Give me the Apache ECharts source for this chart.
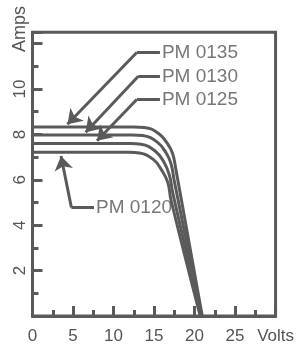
<!DOCTYPE html>
<html>
<head>
<meta charset="utf-8">
<script src="https://cdn.jsdelivr.net/npm/echarts@6/dist/echarts.min.js"></script>
<style>
html,body{margin:0;padding:0;background:#fff;}
#c{width:297px;height:345px;}
</style>
</head>
<body>
<div id="c"></div>
<script>
// ---- data (Volts, Amps) ----
const seriesNames = ['PM 0135', 'PM 0130', 'PM 0125', 'PM 0120'];
const pm0135 = [[0, 8.33], [7, 8.33], [12.5, 8.33], [13.8, 8.31], [15.6, 8.03], [16.7, 7.57], [17.3, 7.15], [17.7, 6.45], [20.95, 0]];
const pm0130 = [[0, 7.98], [7, 7.98], [12.3, 7.98], [13.6, 7.95], [15.4, 7.66], [16.5, 7.18], [17.1, 6.7], [17.5, 5.95], [20.85, 0]];
const pm0125 = [[0, 7.60], [7, 7.60], [12.1, 7.60], [13.4, 7.57], [15.1, 7.28], [16.2, 6.8], [16.9, 6.2], [17.3, 5.45], [20.8, 0]];
const pm0120 = [[0, 7.21], [7, 7.21], [11.9, 7.21], [13.2, 7.18], [14.9, 6.9], [15.9, 6.45], [16.7, 5.88], [17.1, 5.1], [20.7, 0]];
const curves = [pm0135, pm0130, pm0125, pm0120];

// tick labels and axis title
const xTickLabels = {0: '0', 5: '5', 10: '10', 15: '15', 20: '20', 25: '25', 30: 'Volts'};
const yTickLabels = {2: '2', 4: '4', 6: '6', 8: '8', 10: '10'};
const yTitle = 'Amps';

// callouts (data coordinates): arrow tip, elbow, label anchor
const calloutTips = [[4.31, 8.45], [6.56, 8.1], [7.96, 7.72], [3.52, 7.05]];
const calloutElbows = [[12.87, 11.61], [13.06, 10.56], [12.87, 9.54], [4.8, 4.78]];
const calloutEnds = [[15.73, 11.61], [15.73, 10.56], [15.73, 9.54], [7.59, 4.78]];

const INK = '#5a5a5a';
const TXT = '#555555';
const FONT = '"Liberation Sans", Arial, sans-serif';

const chart = echarts.init(document.getElementById('c'), null, {renderer: 'canvas'});

const lineSeries = curves.map((d, i) => ({
  name: seriesNames[i], type: 'line', data: d, smooth: 0.45,
  showSymbol: false, symbol: 'none', lineStyle: {color: INK, width: 3}, z: 3
}));
const arrowSeries = {
  type: 'lines', coordinateSystem: 'cartesian2d', symbol: ['none', 'arrow'], symbolSize: [9, 14],
  lineStyle: {color: INK, width: 3, opacity: 1, curveness: 0},
  data: calloutTips.map((t, i) => ({coords: [calloutElbows[i], t]})), z: 4, silent: true
};
const legSeries = {
  type: 'lines', coordinateSystem: 'cartesian2d', symbol: 'none',
  lineStyle: {color: INK, width: 3, opacity: 1, curveness: 0},
  data: calloutEnds.map((e, i) => ({coords: [calloutElbows[i], e]})), z: 4, silent: true
};
const labelSeries = {
  type: 'scatter', symbolSize: 0,
  data: calloutEnds.map((e, i) => [e[0], e[1], seriesNames[i]]),
  label: {show: true, position: 'right', distance: 2, formatter: p => p.value[2], color: TXT, fontSize: 19, fontFamily: FONT},
  z: 5, silent: true
};

chart.setOption({
  animation: false,
  backgroundColor: '#fff',
  grid: {left: 32.5, right: 17.5, top: 32.3, bottom: 26.7, show: true, borderColor: INK, borderWidth: 3, backgroundColor: 'transparent'},
  xAxis: {
    type: 'value', min: 0, max: 30, interval: 5,
    axisLine: {show: true, lineStyle: {color: INK, width: 3}},
    axisTick: {show: true, inside: true, length: 10, lineStyle: {color: INK, width: 3}},
    minorTick: {show: true, splitNumber: 2, length: 6, lineStyle: {color: INK, width: 3}},
    splitLine: {show: false},
    axisLabel: {color: TXT, fontSize: 17, fontFamily: FONT, margin: 12, formatter: v => (xTickLabels[v] !== undefined ? xTickLabels[v] : '')}
  },
  yAxis: {
    type: 'value', min: 0, max: 12.5, interval: 2,
    axisLine: {show: true, lineStyle: {color: INK, width: 3}},
    axisTick: {show: true, inside: true, length: 10, lineStyle: {color: INK, width: 3}},
    minorTick: {show: true, splitNumber: 2, length: 6, lineStyle: {color: INK, width: 3}},
    splitLine: {show: false},
    axisLabel: {color: TXT, fontSize: 17, fontFamily: FONT, margin: 4, rotate: 90, formatter: v => (yTickLabels[v] !== undefined ? yTickLabels[v] : '')}
  },
  graphic: [{
    type: 'text', x: 20.5, y: 29, rotation: Math.PI / 2,
    style: {text: yTitle, fill: TXT, font: '18px ' + FONT, textAlign: 'center', textVerticalAlign: 'middle'}
  }],
  series: [...lineSeries, legSeries, arrowSeries, labelSeries]
});
</script>
</body>
</html>
